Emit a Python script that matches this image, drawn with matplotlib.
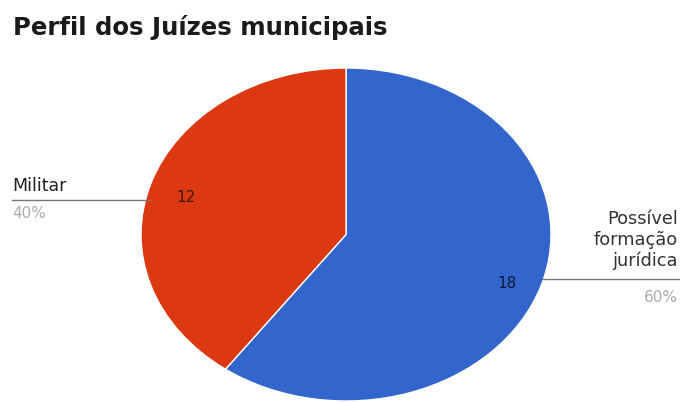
import matplotlib.pyplot as plt

# dados
categorias = ['Possível\nformação\njurídica', 'Militar']
valores = [18, 12]
cores = ['#3366cc', '#dc3912']
titulo = 'Perfil dos Juízes municipais'

plt.rcParams['font.family'] = ['DejaVu Sans']

fig = plt.figure(figsize=(6.8, 4.03), dpi=100)
ax = fig.add_axes([141/680, 2/403, 410/680, 333/403])

total = sum(valores)
wedges, txts = ax.pie(valores, colors=cores, startangle=90, counterclock=False,
                      radius=1, wedgeprops=dict(edgecolor='white', linewidth=1))
ax.set_aspect('auto')
ax.set_xlim(-1, 1)
ax.set_ylim(-1, 1)
ax.axis('off')

fig.text(13/680, 1 - 27/403, titulo, fontsize=17.6, fontweight='bold', color='#1a1a1a', va='center')

# rótulos (Militar à esquerda)
pct = [round(v / total * 100) for v in valores]
fig.add_artist(plt.Line2D([12/680, 150/680], [1 - 200/403, 1 - 200/403], color='#777777', lw=1))
fig.text(12/680, 1 - 186/403, categorias[1], fontsize=12.5, color='#222222', va='center')
fig.text(12/680, 1 - 213/403, f'{pct[1]}%', fontsize=11, color='#aaaaaa', va='center')
fig.text(186/680, 1 - 197/403, str(valores[1]), fontsize=11, color='#3a1a0a', va='center', ha='center')

# rótulos (formação jurídica à direita)
fig.add_artist(plt.Line2D([542/680, 680/680], [1 - 279/403, 1 - 279/403], color='#777777', lw=1))
fig.text(678/680, 1 - 240/403, categorias[0], fontsize=12.8, color='#333333', va='center', ha='right',
         linespacing=1.2)
fig.text(678/680, 1 - 297/403, f'{pct[0]}%', fontsize=11, color='#aaaaaa', va='center', ha='right')
fig.text(507/680, 1 - 283/403, str(valores[0]), fontsize=11, color='#0a1a3a', va='center', ha='center')

fig.savefig('out.png', dpi=100)
